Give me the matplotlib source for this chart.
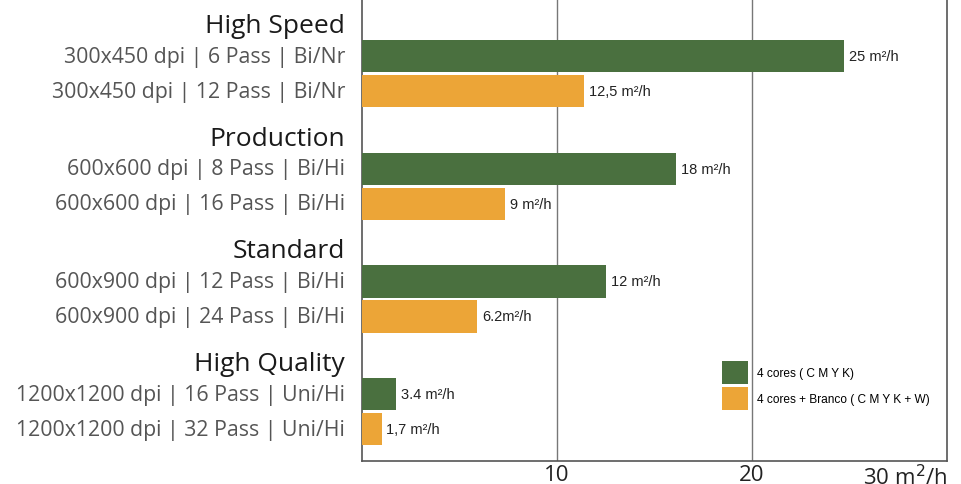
import matplotlib.pyplot as plt
from matplotlib.patches import Patch
from matplotlib.transforms import blended_transform_factory

# Groups and their modes
groups = ["High Speed", "Production", "Standard", "High Quality"]
modes_cmyk = [
    "300x450 dpi | 6 Pass | Bi/Nr",
    "600x600 dpi | 8 Pass | Bi/Hi",
    "600x900 dpi | 12 Pass | Bi/Hi",
    "1200x1200 dpi | 16 Pass | Uni/Hi",
]
modes_white = [
    "300x450 dpi | 12 Pass | Bi/Nr",
    "600x600 dpi | 16 Pass | Bi/Hi",
    "600x900 dpi | 24 Pass | Bi/Hi",
    "1200x1200 dpi | 32 Pass | Uni/Hi",
]
# bar lengths as drawn in the picture (m2/h scale)
len_cmyk = [24.7, 16.1, 12.5, 1.75]
len_white = [11.4, 7.35, 5.9, 1.0]
# value labels as printed
lbl_cmyk = ["25 m²/h", "18 m²/h", "12 m²/h", "3.4 m²/h"]
lbl_white = ["12,5 m²/h", "9 m²/h", "6.2m²/h", "1,7 m²/h"]

legend_labels = ["4 cores ( C M Y K)", "4 cores + Branco ( C M Y K + W)"]
GREEN = "#4a703f"
ORANGE = "#eca537"

fig = plt.figure(figsize=(9.61, 4.85), dpi=100)
ax = fig.add_axes([362 / 961, 1 - 462 / 485, 585 / 961, 462 / 485])

step = 3.22
bar_h = 0.92
base = [g * step for g in range(len(groups))]
y_green = [b + 0.95 for b in base]
y_orange = [b + 1.95 for b in base]

ax.barh(y_green, len_cmyk, height=bar_h, color=GREEN, zorder=3)
ax.barh(y_orange, len_white, height=bar_h, color=ORANGE, zorder=3)

ax.set_xlim(0, 30)
ax.set_ylim(12.52, -0.68)

# value labels
for y, v, t in zip(y_green, len_cmyk, lbl_cmyk):
    ax.text(v + 0.25, y, t, va="center", ha="left", fontsize=10.5,
            family="Liberation Sans", color="#222222", zorder=4)
for y, v, t in zip(y_orange, len_white, lbl_white):
    ax.text(v + 0.25, y, t, va="center", ha="left", fontsize=10.5,
            family="Liberation Sans", color="#222222", zorder=4)

# category labels on the left
tr = blended_transform_factory(ax.transAxes, ax.transData)
xoff = -17 / 585
for b, g in zip(base, groups):
    ax.text(xoff, b + 0.08, g, ha="right", va="center", fontsize=19,
            family="Open Sans", color="#1a1a1a", transform=tr)
for y, t in zip(y_green, modes_cmyk):
    ax.text(xoff, y, t, ha="right", va="center", fontsize=15.3,
            family="Open Sans", color="#555555", transform=tr)
for y, t in zip(y_orange, modes_white):
    ax.text(xoff, y, t, ha="right", va="center", fontsize=15.3,
            family="Open Sans", color="#555555", transform=tr)

# grid and spines
ax.set_yticks([])
ax.set_xticks([10, 20, 30])
ax.set_xticklabels(["10", "20", "30 m$^2$/h"], fontsize=16, family="Open Sans",
                   color="#222222")
ax.get_xticklabels()[2].set_horizontalalignment("right")
ax.tick_params(axis="x", length=0, pad=2)
for x in [10, 20]:
    ax.axvline(x, color="#777777", linewidth=1.0, zorder=1)
ax.spines["top"].set_visible(False)
for s in ["left", "bottom", "right"]:
    ax.spines[s].set_color("#555555")
    ax.spines[s].set_linewidth(1.2)

handles = [Patch(facecolor=GREEN), Patch(facecolor=ORANGE)]
ax.legend(handles, legend_labels, loc="upper left",
          bbox_to_anchor=((722 - 362) / 585, (462 - 362) / 462),
          frameon=False, handlelength=2.2, handleheight=2.6,
          handletextpad=0.7, labelspacing=0.25, borderaxespad=0, borderpad=0,
          prop={"family": "Liberation Sans", "size": 8.6})

fig.savefig("out.png", dpi=100)
